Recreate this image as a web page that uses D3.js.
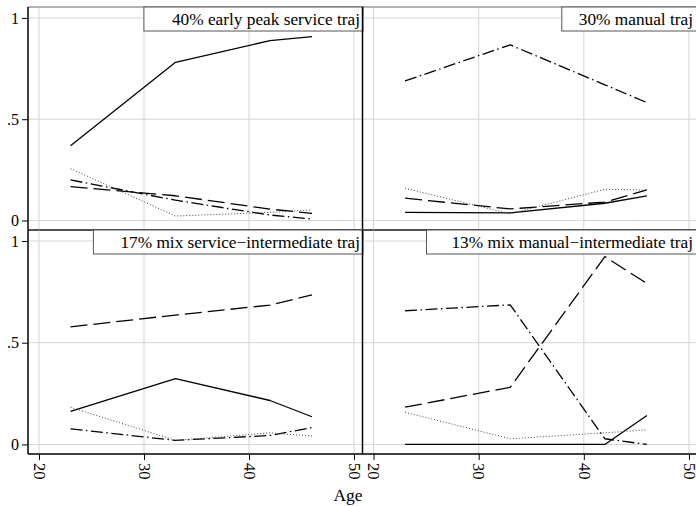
<!DOCTYPE html>
<html>
<head>
<meta charset="utf-8">
<script src="https://cdn.jsdelivr.net/npm/d3@7"></script>
<style>
  html, body { margin: 0; padding: 0; background: #fff; }
  svg text { font-family: "Liberation Serif", "DejaVu Serif", serif; }
</style>
</head>
<body>
<svg id="chart" width="696" height="506"></svg>
<script>
// ---------- data ----------
const ages = [23, 33, 42, 46];
const panelTitles = [
  "40% early peak service traj",
  "30% manual traj",
  "17% mix service\u2212intermediate traj",
  "13% mix manual\u2212intermediate traj"
];
const seriesNames = ["service", "intermediate", "manual", "other"];
// values per panel (panel order: top-left, top-right, bottom-left, bottom-right)
const serviceVals = [
  [0.369, 0.781, 0.888, 0.908],
  [0.040, 0.038, 0.085, 0.121],
  [0.162, 0.324, 0.216, 0.136],
  [0.000, 0.000, 0.000, 0.142]
];
const intermediateVals = [
  [0.167, 0.122, 0.056, 0.035],
  [0.110, 0.057, 0.091, 0.151],
  [0.578, 0.636, 0.685, 0.735],
  [0.183, 0.281, 0.923, 0.791]
];
const manualVals = [
  [0.200, 0.100, 0.027, 0.007],
  [0.689, 0.867, 0.670, 0.582],
  [0.077, 0.020, 0.044, 0.083],
  [0.657, 0.686, 0.028, 0.000]
];
const otherVals = [
  [0.256, 0.022, 0.040, 0.052],
  [0.159, 0.033, 0.154, 0.150],
  [0.183, 0.020, 0.057, 0.041],
  [0.158, 0.028, 0.057, 0.072]
];
const xTicks = [20, 30, 40, 50];
const yTicks = [0, 0.5, 1];
const yTickLabels = ["0", ".5", "1"];
const xTitle = "Age";

// ---------- layout / style ----------
const FONT = "Liberation Serif, DejaVu Serif, serif";
const seriesValues = [serviceVals, intermediateVals, manualVals, otherVals];
const seriesStyle = [
  { dash: null, width: 1.3, color: "#000" },
  { dash: "17,6", width: 1.3, color: "#000" },
  { dash: "12,3.5,1.5,3.5", width: 1.3, color: "#000" },
  { dash: "1,2", width: 1, color: "#444" }
];
const panelBoxes = [
  { x0: 28, x1: 363, y0: 7, y1: 230, col: 0, row: 0, padL: 28 },
  { x0: 362.5, x1: 698, y0: 7, y1: 230, col: 1, row: 0, padL: 17 },
  { x0: 28, x1: 363, y0: 230, y1: 454, col: 0, row: 1, padL: 27 },
  { x0: 362.5, x1: 698, y0: 230, y1: 454, col: 1, row: 1, padL: 25 }
];
const xDomain = [18.95, 50.86];
const yDomain = [-0.047, 1.054];

const svg = d3.select("#chart");

panelBoxes.forEach((pb, i) => {
  const x = d3.scaleLinear().domain(xDomain).range([pb.x0, pb.x1]);
  const y = d3.scaleLinear().domain(yDomain).range([pb.y1, pb.y0]);
  const g = svg.append("g");

  // grid
  g.selectAll("line.vg").data(xTicks).enter().append("line")
    .attr("x1", d => x(d)).attr("x2", d => x(d))
    .attr("y1", pb.y0).attr("y2", pb.y1)
    .attr("stroke", "#d4d4d4").attr("stroke-width", 1);
  g.selectAll("line.hg").data(yTicks).enter().append("line")
    .attr("y1", d => y(d)).attr("y2", d => y(d))
    .attr("x1", pb.x0).attr("x2", pb.x1)
    .attr("stroke", "#d4d4d4").attr("stroke-width", 1);

  // series lines
  seriesNames.forEach((name, s) => {
    const vals = seriesValues[s][i];
    const st = seriesStyle[s];
    const line = d3.line().x((d, k) => x(ages[k])).y(d => y(d));
    g.append("path")
      .datum(vals)
      .attr("d", line)
      .attr("fill", "none")
      .attr("stroke", st.color)
      .attr("stroke-width", st.width)
      .attr("stroke-dasharray", st.dash)
      .attr("stroke-linejoin", "round");
  });

  // top outline (gray)
  g.append("line").attr("x1", pb.x0).attr("x2", pb.x1)
    .attr("y1", pb.y0).attr("y2", pb.y0)
    .attr("stroke", "#666").attr("stroke-width", 1);

  // y axis
  const yAxis = d3.axisLeft(y).tickValues(yTicks)
    .tickFormat((d, k) => pb.col === 0 ? yTickLabels[k] : "")
    .tickSize(pb.col === 0 ? 6 : 0).tickSizeOuter(0).tickPadding(3);
  const ya = g.append("g").attr("transform", `translate(${pb.x0},0)`).call(yAxis)
    .attr("font-family", FONT);
  ya.select(".domain").attr("stroke", "#000").attr("stroke-width", 1.5)
    .attr("d", `M0,${pb.y0}V${pb.y1}`);
  ya.selectAll(".tick line").attr("stroke", "#000").attr("stroke-width", 1);
  ya.selectAll(".tick text").attr("font-size", 16).attr("fill", "#000")
    .attr("font-family", FONT);

  // x axis
  const xAxis = d3.axisBottom(x).tickValues(xTicks)
    .tickFormat(d => pb.row === 1 ? d : "")
    .tickSize(pb.row === 1 ? 6 : 0).tickSizeOuter(0);
  const xa = g.append("g").attr("transform", `translate(0,${pb.y1})`).call(xAxis)
    .attr("font-family", FONT);
  xa.select(".domain").attr("stroke", "#000").attr("stroke-width", 1.5)
    .attr("d", `M${pb.x0},0H${pb.x1}`);
  xa.selectAll(".tick line").attr("stroke", "#000").attr("stroke-width", 1);
  xa.selectAll(".tick text")
    .attr("font-size", 16.5).attr("fill", "#000").attr("font-family", FONT)
    .attr("transform", "rotate(90)")
    .attr("x", 9).attr("y", 0).attr("dy", "0.35em")
    .attr("text-anchor", "start");

  // title box
  const tx = Math.min(pb.x1, 696) - 3;
  const tb = g.append("g");
  const rect = tb.append("rect");
  const t = tb.append("text")
    .attr("x", tx).attr("y", pb.y0 + 18)
    .attr("text-anchor", "end")
    .attr("font-family", FONT)
    .attr("font-size", 17.3)
    .attr("fill", "#000")
    .text(panelTitles[i]);
  const w = t.node().getComputedTextLength();
  rect.attr("x", tx - w - pb.padL).attr("y", pb.y0)
    .attr("width", pb.x1 - (tx - w - pb.padL)).attr("height", 24)
    .attr("fill", "#fff").attr("stroke", "#555").attr("stroke-width", 1);
});

// x title
svg.append("text")
  .attr("x", 348).attr("y", 501)
  .attr("text-anchor", "middle")
  .attr("font-family", FONT)
  .attr("font-size", 17.5)
  .attr("fill", "#000")
  .text(xTitle);
</script>
</body>
</html>
